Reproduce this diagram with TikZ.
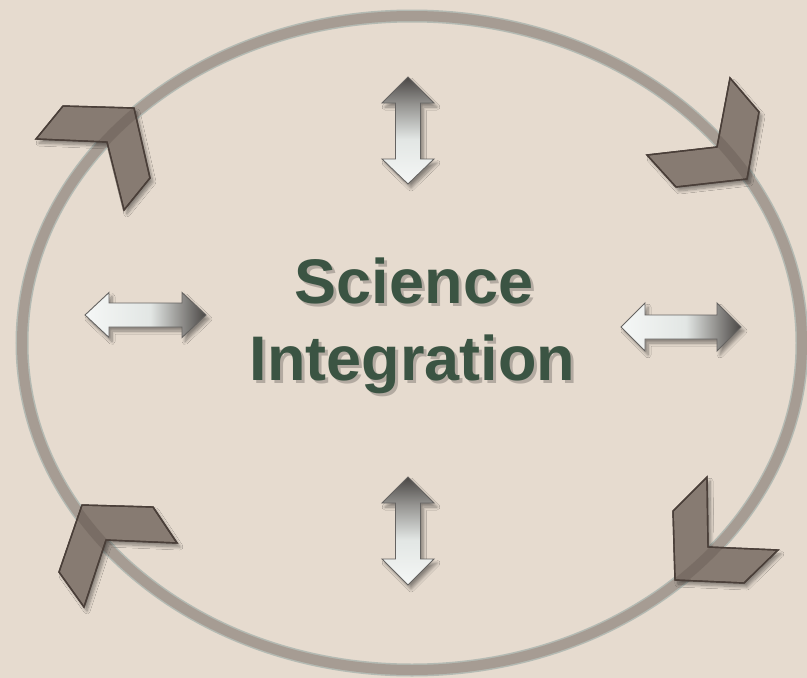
\documentclass[tikz,border=0pt]{standalone}
\usepackage{fontspec}
\setmainfont{Liberation Sans}
\usetikzlibrary{shadows.blur}
\definecolor{bg}{HTML}{E6DBCF}
\definecolor{ring}{HTML}{A69C93}
\definecolor{ringedge}{HTML}{B4BAB3}
\definecolor{chev}{HTML}{877B72}
\definecolor{chevline}{HTML}{4A3F39}
\definecolor{txt}{HTML}{3B5443}
\definecolor{arrdark}{HTML}{4A4745}
\definecolor{arrmid}{HTML}{969592}
\definecolor{arrlight}{HTML}{E2E6E4}
\definecolor{arrwhite}{HTML}{F5F7F6}
% metallic fades: light over most of the body, dark at one end
\pgfdeclareverticalshading{vmetal}{100bp}{color(0bp)=(arrwhite); color(25bp)=(arrwhite);
  color(46bp)=(arrlight); color(62bp)=(arrmid); color(75bp)=(arrdark); color(100bp)=(arrdark)}
\pgfdeclarehorizontalshading{hmetal}{100bp}{color(0bp)=(arrwhite); color(25bp)=(arrwhite);
  color(52bp)=(arrlight); color(64bp)=(arrmid); color(75bp)=(arrdark); color(100bp)=(arrdark)}
\begin{document}
\begin{tikzpicture}[x=1pt,y=-1pt,
  softshadow/.style={blur shadow={shadow xshift=3pt,shadow yshift=-4pt,shadow opacity=40,shadow blur steps=8,shadow blur radius=3pt}},
  chevron/.style={fill=chev, draw=chevline, line width=1.4pt, line join=miter, softshadow},
  arrowbox/.style={draw=arrdark!85, line width=0.9pt, line join=miter, softshadow},
  varrow/.style={arrowbox, shading=vmetal},
  harrow/.style={arrowbox, shading=hmetal},
  title/.style={font=\bfseries\fontsize{63}{77}\selectfont, text=txt, anchor=base, inner sep=0pt},
  titleshadow/.style={title, text=black, opacity=0.22}]

% canvas
\fill[bg] (0,0) rectangle (807,678);
\useasboundingbox (0,0) rectangle (807,678);

% the cycle ring
\coordinate (c) at (412,343);
\draw[ringedge, line width=13pt] (c) ellipse [x radius=390, y radius=327];
\draw[ring, line width=10pt] (c) ellipse [x radius=390, y radius=327];

% chevrons riding on the ring
\def\chevTL{(63,106) -- (134,108) -- (150,178) -- (124,210) -- (107,142) -- (36,139) -- cycle}
\def\chevTR{(730,78) -- (759,112) -- (747,179) -- (676,187) -- (647,155) -- (717,147) -- cycle}
\def\chevBL{(82,505) -- (153,507) -- (177,543) -- (106,540) -- (84,607) -- (59,572) -- cycle}
\def\chevBR{(707,477) -- (673,511) -- (675,580) -- (744,583) -- (778,550) -- (708,547) -- cycle}
\foreach \p in {\chevTL,\chevTR,\chevBL,\chevBR}{
  \draw[chevron] \p;
  \begin{scope}
    \clip \p;
    \draw[chevline, opacity=0.22, line width=10pt] (c) ellipse [x radius=390, y radius=327];
  \end{scope}
  \draw[chevline, line width=1.4pt, line join=miter] \p;
}

% double arrows
\draw[varrow] (408,77) -- (434,103) -- (420.5,103) -- (420.5,159) -- (434,159) -- (408,184)
  -- (382,159) -- (395.5,159) -- (395.5,103) -- (382,103) -- cycle;
\draw[varrow] (408,477) -- (434,503) -- (420.5,503) -- (420.5,559) -- (434,559) -- (408,585)
  -- (382,559) -- (395.5,559) -- (395.5,503) -- (382,503) -- cycle;
\draw[harrow] (85,315) -- (109,292.5) -- (109,303) -- (182,303) -- (182,292.5) -- (206,315)
  -- (182,337.5) -- (182,327) -- (109,327) -- (109,337.5) -- cycle;
\draw[harrow] (621,327) -- (645,303) -- (645,315) -- (717,315) -- (717,303) -- (741,327)
  -- (717,351) -- (717,339) -- (645,339) -- (645,351) -- cycle;

% title with a soft shadow
\node[titleshadow] at (417,306) {Science};
\node[titleshadow] at (415.5,383) {Integration};
\node[title] (sci) at (414,303) {Science};
\node[title] (integ) at (412.5,380) {Integration};
\end{tikzpicture}
\end{document}
